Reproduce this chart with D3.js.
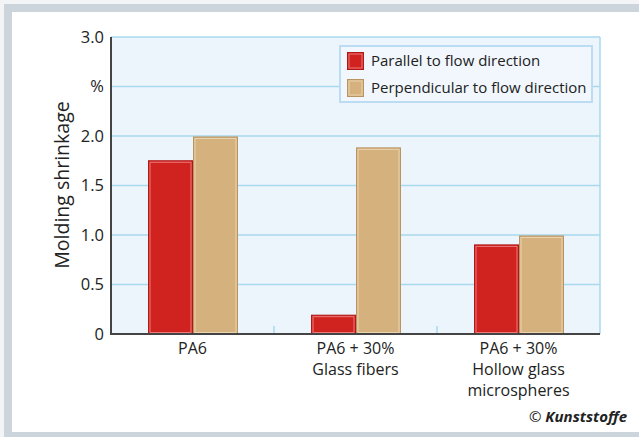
<!DOCTYPE html>
<html>
<head>
<meta charset="utf-8">
<script src="https://cdn.jsdelivr.net/npm/d3@7"></script>
<style>
  body { margin: 0; padding: 0; }
  svg text { font-family: "Open Sans", "Noto Sans", sans-serif; }
</style>
</head>
<body>
<div id="chart"></div>
<script>

// ---- data ----
var vsCategories = [["PA6"], ["PA6 + 30%", "Glass fibers"], ["PA6 + 30%", "Hollow glass", "microspheres"]];
var vsSeries = ["Parallel to flow direction", "Perpendicular to flow direction"];
var vfParallel = [1.75, 0.19, 0.90];
var vfPerpendicular = [1.99, 1.88, 0.99];
var vfTicks = [0, 0.5, 1.0, 1.5, 2.0, 2.5, 3.0];
var vsTickLabels = ["0", "0.5", "1.0", "1.5", "2.0", "%", "3.0"];

var g_nW = 639;
var g_nH = 437;

var g_colorRed = "#d0221f";
var g_colorTan = "#d4b17d";
var g_colorGrid = "#a9d9ee";
var g_colorPlot = "#ecf5fc";

var svg = d3.select("#chart").append("svg")
			.attr("width", g_nW)
			.attr("height", g_nH);

// frame
svg.append("rect").attr("x", 0).attr("y", 0).attr("width", g_nW).attr("height", g_nH).attr("fill", "#f2f4f6");
svg.append("rect").attr("x", 4).attr("y", 4).attr("width", g_nW - 4).attr("height", g_nH - 4).attr("fill", "#ccd4dc");
svg.append("rect").attr("x", 12).attr("y", 12).attr("width", g_nW - 12).attr("height", 420).attr("fill", "#ffffff");

var nLeft = 111, nRight = 600, nTop = 37, nBottom = 334;

var x = d3.scaleBand()
			.domain(d3.range(vsCategories.length))
			.range([nLeft, nRight]);

var y = d3.scaleLinear()
			.domain([0, 3])
			.range([nBottom, nTop]);

// plot background
svg.append("rect")
	.attr("x", nLeft).attr("y", nTop)
	.attr("width", nRight - nLeft).attr("height", nBottom - nTop)
	.attr("fill", g_colorPlot);

// grid
svg.selectAll("line.grid")
	.data(vfTicks.slice(1))
	.enter()
	.append("line")
		.attr("class", "grid")
		.attr("x1", nLeft).attr("x2", nRight)
		.attr("y1", function(d) { return y(d); })
		.attr("y2", function(d) { return y(d); })
		.attr("stroke", g_colorGrid)
		.attr("stroke-width", 1.5);

svg.append("line")
	.attr("x1", nRight).attr("x2", nRight)
	.attr("y1", nTop).attr("y2", nBottom)
	.attr("stroke", g_colorGrid).attr("stroke-width", 1.5);

// category separators
svg.selectAll("line.sep")
	.data(d3.range(1, vsCategories.length))
	.enter()
	.append("line")
		.attr("class", "sep")
		.attr("x1", function(d) { return x(d); })
		.attr("x2", function(d) { return x(d); })
		.attr("y1", nBottom - 8).attr("y2", nBottom)
		.attr("stroke", g_colorGrid).attr("stroke-width", 1.5);

// bars
var nBarW = 44;
var vtBars = [];
vsCategories.forEach(function(c, i) {
	vtBars.push({ i: i, s: 0, v: vfParallel[i] });
	vtBars.push({ i: i, s: 1, v: vfPerpendicular[i] });
});

var vcFill = [g_colorRed, g_colorTan];
var vcEdge = ["#b01818", "#b89464"];
var vcHi = ["#ec7a7a", "#ead4ae"];

function barX(d) { return x(d.i) + x.bandwidth() / 2 - nBarW + d.s * (nBarW + 1); }

var gBars = svg.selectAll("g.bar").data(vtBars).enter().append("g").attr("class", "bar");

gBars.append("rect")
	.attr("x", function(d) { return barX(d); })
	.attr("y", function(d) { return y(d.v); })
	.attr("width", nBarW)
	.attr("height", function(d) { return nBottom - y(d.v); })
	.attr("fill", function(d) { return vcFill[d.s]; })
	.attr("stroke", function(d) { return vcEdge[d.s]; })
	.attr("stroke-width", 1);

gBars.append("rect")
	.attr("x", function(d) { return barX(d) + 1.5; })
	.attr("y", function(d) { return y(d.v) + 1.5; })
	.attr("width", nBarW - 3)
	.attr("height", function(d) { return Math.max(0, nBottom - y(d.v) - 3); })
	.attr("fill", "none")
	.attr("stroke", function(d) { return vcHi[d.s]; })
	.attr("stroke-width", 1);

// axes
svg.append("line")
	.attr("x1", nLeft).attr("x2", nLeft)
	.attr("y1", nTop).attr("y2", nBottom + 1)
	.attr("stroke", "#444").attr("stroke-width", 2);
svg.append("line")
	.attr("x1", nLeft - 1).attr("x2", nRight)
	.attr("y1", nBottom).attr("y2", nBottom)
	.attr("stroke", "#444").attr("stroke-width", 2);

// y tick labels
svg.selectAll("text.ytick")
	.data(vfTicks)
	.enter()
	.append("text")
		.attr("class", "ytick")
		.attr("x", 104)
		.attr("y", function(d) { return y(d); })
		.attr("dy", "0.36em")
		.attr("text-anchor", "end")
		.attr("font-size", "16.5px")
		.attr("fill", "#222")
		.text(function(d, i) { return vsTickLabels[i]; });

// y title
svg.append("text")
	.attr("transform", "translate(69, 185) rotate(-90)")
	.attr("text-anchor", "middle")
	.attr("font-size", "19.5px")
	.attr("fill", "#222")
	.text("Molding shrinkage");

// x labels
var gX = svg.selectAll("g.xlab").data(vsCategories).enter().append("g").attr("class", "xlab");
gX.each(function(d, i) {
	var g = d3.select(this);
	d.forEach(function(s, j) {
		g.append("text")
			.attr("x", x(i) + x.bandwidth() / 2)
			.attr("y", 354 + j * 21)
			.attr("text-anchor", "middle")
			.attr("font-size", "16px")
			.attr("fill", "#222")
			.text(s);
	});
});

// legend
var gLegend = svg.append("g");
gLegend.append("rect")
	.attr("x", 340).attr("y", 46)
	.attr("width", 252).attr("height", 56)
	.attr("fill", "#f1f7fd")
	.attr("stroke", "#bcdcf4")
	.attr("stroke-width", 2);

vsSeries.forEach(function(s, i) {
	gLegend.append("rect")
		.attr("x", 347.5).attr("y", 52.5 + i * 27)
		.attr("width", 16).attr("height", 17)
		.attr("fill", vcFill[i])
		.attr("stroke", vcEdge[i]);
	gLegend.append("rect")
		.attr("x", 349).attr("y", 54 + i * 27)
		.attr("width", 13).attr("height", 14)
		.attr("fill", "none")
		.attr("stroke", vcHi[i]);
	gLegend.append("text")
		.attr("x", 371)
		.attr("y", 66 + i * 27)
		.attr("font-size", "15px")
		.attr("fill", "#222")
		.text(s);
});

// credit
var tCredit = svg.append("text")
	.attr("x", 627).attr("y", 422)
	.attr("text-anchor", "end")
	.attr("font-size", "15px")
	.attr("fill", "#222");
tCredit.append("tspan").text("\u00A9  ");
tCredit.append("tspan").attr("font-weight", "bold").attr("font-style", "italic").text("Kunststoffe");

</script>
</body>
</html>
